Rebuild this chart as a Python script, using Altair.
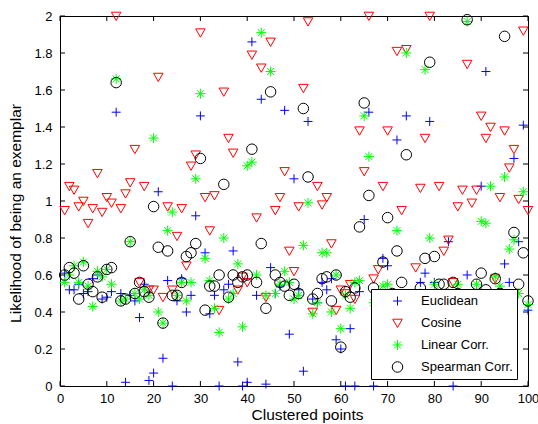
import altair as alt
import pandas as pd

series_names = ["Euclidean", "Cosine", "Linear Corr.", "Spearman Corr."]
xs = list(range(1, 101))

euclidean = [0.61, 0.52, 0.52, 0.55, 0.50, 0.51, 0.58, 0.60, 0.47, 0.48,
             0.51, 1.48, 0.50, 0.02, 0.49, 0.46, 0.37, 0.55, 0.03, 0.07,
             1.05, 0.15, 0.57, 0.00, 0.46, 0.58, 0.40, 0.49, 0.92, 1.46,
             0.72, 0.39, 0.49, 0.00, 0.52, 0.55, 0.73, 0.13, 0.00, 0.02,
             1.86, 0.49, 1.55, 0.01, 0.64, 0.50, 0.54, 1.49, 0.28, 1.12,
             0.52, 0.08, 1.43, 0.47, 0.45, 0.56, 0.52, 0.58, 0.25, 0.20,
             0.00, 0.31, 0.00, 0.51, 0.90, 1.48, 0.00, 0.45, 0.69, 0.65,
             0.30, 1.33, 0.48, 1.46, 0.40, 0.35, 0.56, 0.61, 1.43, 0.56,
             0.45, 0.35, 0.78, 0.00, 0.45, 0.20, 0.60, 0.42, 0.38, 1.08,
             1.70, 0.30, 0.45, 0.25, 0.66, 0.56, 1.23, 0.78, 1.41, 0.41]

cosine = [0.95, 1.08, 1.06, 0.97, 1.00, 0.88, 0.96, 1.15, 0.94, 1.02,
          0.99, 2.00, 0.96, 1.04, 1.10, 1.28, 0.56, 1.08, 0.52, 0.52,
          1.67, 0.48, 0.97, 0.52, 0.81, 0.96, 0.65, 1.19, 1.25, 1.91,
          1.02, 0.84, 1.03, 0.41, 1.59, 1.34, 1.26, 0.52, 0.59, 0.56,
          1.79, 0.91, 1.72, 0.48, 1.86, 0.95, 1.02, 1.16, 0.73, 0.62,
          0.97, 1.61, 1.97, 0.40, 1.08, 0.98, 1.02, 0.77, 0.41, 0.52,
          0.50, 0.55, 0.47, 1.38, 1.16, 2.00, 0.58, 0.63, 1.08, 1.38,
          0.45, 1.81, 0.95, 1.82, 0.40, 0.64, 1.07, 1.34, 2.00, 0.45,
          1.08, 0.73, 0.79, 0.56, 0.97, 1.06, 1.74, 0.99, 1.06, 1.46,
          1.34, 1.40, 0.58, 1.02, 1.38, 1.18, 1.28, 1.01, 1.92, 0.95]

linear = [0.56, 0.60, 0.65, 0.56, 0.67, 0.54, 0.43, 0.62, 0.59, 0.63,
          0.55, 1.66, 0.46, 0.47, 0.78, 0.50, 0.47, 0.52, 0.49, 1.34,
          0.40, 0.34, 0.84, 0.94, 0.49, 0.56, 0.46, 0.56, 1.12, 1.58,
          0.69, 0.57, 0.42, 0.29, 0.80, 0.47, 0.50, 0.66, 0.32, 1.19,
          1.21, 0.60, 1.91, 0.49, 1.70, 0.50, 0.55, 0.62, 0.56, 0.47,
          0.49, 0.76, 0.99, 0.39, 0.45, 0.72, 0.72, 0.40, 0.60, 0.31,
          0.49, 0.42, 0.56, 0.57, 1.46, 1.24, 0.45, 0.30, 0.54, 0.55,
          0.50, 0.84, 0.42, 1.80, 0.35, 0.48, 0.50, 1.71, 0.80, 0.55,
          0.45, 0.40, 0.50, 0.38, 0.55, 0.45, 1.97, 0.48, 0.55, 0.89,
          0.88, 1.08, 0.59, 0.54, 1.13, 0.74, 0.79, 0.50, 1.05, 0.44]

spearman = [0.60, 0.64, 0.61, 0.47, 0.65, 0.55, 0.51, 0.59, 0.48, 0.63,
            0.64, 1.64, 0.46, 0.47, 0.78, 0.50, 0.56, 0.51, 0.48, 0.97,
            0.75, 0.34, 0.73, 0.49, 0.49, 0.56, 0.70, 0.72, 0.77, 1.23,
            0.41, 0.54, 0.54, 0.60, 1.09, 0.48, 0.60, 0.56, 0.59, 0.60,
            1.28, 0.56, 0.77, 0.42, 1.59, 0.60, 0.56, 0.54, 0.49, 0.55,
            0.50, 1.50, 1.13, 0.47, 0.50, 0.58, 0.59, 0.46, 0.60, 0.21,
            0.51, 0.48, 0.53, 0.86, 1.53, 1.03, 0.53, 0.45, 0.67, 0.91,
            0.50, 0.73, 0.56, 1.25, 0.40, 0.48, 0.53, 0.69, 1.75, 0.70,
            0.55, 0.55, 0.45, 0.56, 0.50, 0.42, 1.98, 0.47, 0.55, 0.61,
            0.52, 0.44, 0.58, 0.50, 1.89, 0.48, 0.83, 0.55, 0.72, 0.46]

x_ticks = [0, 10, 20, 30, 40, 50, 60, 70, 80, 90, 100]
y_ticks = [0, 0.2, 0.4, 0.6, 0.8, 1.0, 1.2, 1.4, 1.6, 1.8, 2.0]

rows = []
for i, (name, vals) in enumerate(zip(series_names, [euclidean, cosine, linear, spearman])):
    for xv, yv in zip(xs, vals):
        rows.append({"x": xv, "y": yv, "series": name, "k": i})
df = pd.DataFrame(rows)

W, H = 468, 370
FONT = "Liberation Sans"

xscale = alt.Scale(domain=[0, 100], nice=False, zero=False)
yscale = alt.Scale(domain=[0, 2], nice=False, zero=False)

shapes = [
    "M-1,0L1,0M0,-1L0,1",
    "M-1,-0.8L1,-0.8L0,0.95Z",
    "M-1,0L1,0M0,-1L0,1M-0.7,-0.7L0.7,0.7M-0.7,0.7L0.7,-0.7",
    "circle",
]
colors = ["#0000ff", "#ff0000", "#00ff00", "#000000"]
sizes = [80, 110, 70, 95]

xaxis = alt.Axis(values=x_ticks, title="Clustered points", tickSize=0,
                 domain=False, grid=False, labelPadding=6,
                 labelFontSize=13, titleFontSize=15.5, titleFontWeight="normal",
                 titlePadding=2, labelFont=FONT, titleFont=FONT,
                 labelColor="#000", titleColor="#000", labelFlush=False,
                 labelOverlap=False, titleX=W / 2 + 13)
yaxis = alt.Axis(values=y_ticks, title="Likelihood of being an exemplar",
                 format="~g", tickSize=0, domain=False, grid=False,
                 labelPadding=8, labelFontSize=13, titleFontSize=15.5,
                 titleFontWeight="normal", titlePadding=10, labelFont=FONT,
                 titleFont=FONT, labelColor="#000", titleColor="#000",
                 labelFlush=False, labelOverlap=False, labelBound=False,
                 titleY=H / 2 + 12)

points = alt.Chart(df).mark_point(filled=False, strokeWidth=1, opacity=1).encode(
    x=alt.X("x:Q", scale=xscale, axis=xaxis),
    y=alt.Y("y:Q", scale=yscale, axis=yaxis),
    color=alt.Color("series:N", sort=series_names,
                    scale=alt.Scale(domain=series_names, range=colors),
                    legend=alt.Legend(title=None, orient="none", legendX=311, legendY=273,
                                      fillColor="white", strokeColor="black",
                                      padding=4, labelFontSize=13, labelFont=FONT,
                                      labelColor="#000", symbolOffset=16,
                                      labelOffset=17, rowPadding=6, clipHeight=16,
                                      cornerRadius=0, symbolStrokeWidth=1)),
    shape=alt.Shape("series:N", sort=series_names,
                    scale=alt.Scale(domain=series_names, range=shapes)),
    size=alt.Size("series:N", sort=series_names,
                  scale=alt.Scale(domain=series_names, range=sizes)),
    order=alt.Order("k:Q"),
)

xt_df = pd.DataFrame({"v": x_ticks})
yt_df = pd.DataFrame({"v": y_ticks})

tick_len = 5
xb = alt.Chart(xt_df).mark_rule(color="black", strokeWidth=1).encode(
    x=alt.X("v:Q", scale=xscale, axis=xaxis), y=alt.value(H), y2=alt.value(H - tick_len))
xtop = alt.Chart(xt_df).mark_rule(color="black", strokeWidth=1).encode(
    x=alt.X("v:Q", scale=xscale, axis=xaxis), y=alt.value(0), y2=alt.value(tick_len))
yl = alt.Chart(yt_df).mark_rule(color="black", strokeWidth=1).encode(
    y=alt.Y("v:Q", scale=yscale, axis=yaxis), x=alt.value(0), x2=alt.value(tick_len))
yr = alt.Chart(yt_df).mark_rule(color="black", strokeWidth=1).encode(
    y=alt.Y("v:Q", scale=yscale, axis=yaxis), x=alt.value(W), x2=alt.value(W - tick_len))

chart = alt.layer(points, xb, xtop, yl, yr).properties(
    width=W, height=H,
    autosize=alt.AutoSizeParams(type="none"),
    padding={"left": 60, "top": 16, "right": 10, "bottom": 38},
    background="white",
).configure_view(stroke="black", strokeWidth=1)

chart.save("out.html", embed_options={"renderer": "svg", "actions": False})
